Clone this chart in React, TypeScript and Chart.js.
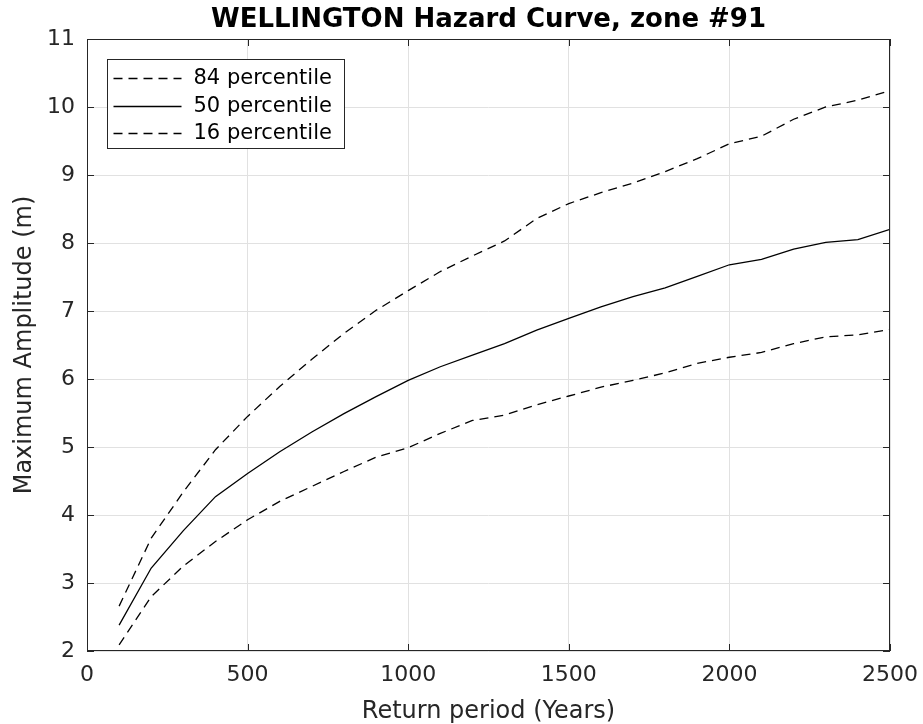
import React, { useEffect, useRef } from "react";
import { Chart, registerables } from "chart.js";

Chart.register(...registerables);

const titleText = "WELLINGTON Hazard Curve, zone #91";
const xTitle = "Return period (Years)";
const yTitle = "Maximum Amplitude (m)";
const seriesNames = ["84 percentile", "50 percentile", "16 percentile"];

const years = [100, 200, 300, 400, 500, 600, 700, 800, 900, 1000, 1100, 1200, 1300, 1400, 1500, 1600, 1700, 1800, 1900, 2000, 2100, 2200, 2300, 2400, 2500];
const p84 = [2.66, 3.66, 4.34, 4.96, 5.45, 5.89, 6.29, 6.67, 7.01, 7.3, 7.58, 7.81, 8.03, 8.36, 8.58, 8.74, 8.88, 9.05, 9.24, 9.46, 9.57, 9.82, 10.0, 10.1, 10.24];
const p50 = [2.38, 3.22, 3.77, 4.27, 4.61, 4.93, 5.22, 5.49, 5.74, 5.98, 6.18, 6.35, 6.52, 6.72, 6.89, 7.06, 7.21, 7.34, 7.51, 7.68, 7.76, 7.91, 8.01, 8.05, 8.2];
const p16 = [2.09, 2.8, 3.25, 3.61, 3.93, 4.2, 4.42, 4.64, 4.85, 4.99, 5.2, 5.39, 5.47, 5.62, 5.75, 5.88, 5.98, 6.09, 6.23, 6.32, 6.39, 6.52, 6.62, 6.65, 6.73];

const xMin = 0, xMax = 2500, xStep = 500;
const yMin = 2, yMax = 11, yStep = 1;

const FONT = "'DejaVu Sans', sans-serif";
const AXIS = "#262626";
const DASH = [9, 6];
const LW = 1.3;

const frameAndLegend = {
  id: "frameAndLegend",
  afterDatasetsDraw(chart: any) {
    const ctx = chart.ctx;
    const { left, right, top, bottom } = chart.chartArea;
    const xs = chart.scales.x;
    const ys = chart.scales.y;
    ctx.save();
    ctx.strokeStyle = AXIS;
    ctx.lineWidth = 1;
    ctx.strokeRect(Math.round(left) + 0.5, Math.round(top) + 0.5, Math.round(right - left) - 1, Math.round(bottom - top) - 1);
    const tl = 7;
    ctx.beginPath();
    for (let v = xMin; v <= xMax; v += xStep) {
      const px = Math.round(xs.getPixelForValue(v)) + 0.5;
      ctx.moveTo(px, bottom);
      ctx.lineTo(px, bottom - tl);
      ctx.moveTo(px, top);
      ctx.lineTo(px, top + tl);
    }
    for (let v = yMin; v <= yMax; v += yStep) {
      const py = Math.round(ys.getPixelForValue(v)) + 0.5;
      ctx.moveTo(left, py);
      ctx.lineTo(left + tl, py);
      ctx.moveTo(right, py);
      ctx.lineTo(right - tl, py);
    }
    ctx.stroke();

    const bx = Math.round(left) + 20.5;
    const by = Math.round(top) + 20.5;
    const bw = 237;
    const bh = 89;
    ctx.fillStyle = "#ffffff";
    ctx.fillRect(bx, by, bw, bh);
    ctx.strokeStyle = AXIS;
    ctx.lineWidth = 1;
    ctx.strokeRect(bx, by, bw, bh);
    ctx.font = `21px ${FONT}`;
    ctx.textBaseline = "middle";
    ctx.textAlign = "left";
    const rowY = [18.5, 46.5, 73];
    chart.data.datasets.forEach((ds: any, i: number) => {
      const y = Math.round(by + rowY[i]) + 0.5;
      ctx.strokeStyle = "#000";
      ctx.lineWidth = LW;
      ctx.setLineDash(ds.borderDash || []);
      ctx.beginPath();
      ctx.moveTo(bx + 6, y);
      ctx.lineTo(bx + 74, y);
      ctx.stroke();
      ctx.setLineDash([]);
      ctx.fillStyle = "#000";
      ctx.fillText(ds.label, bx + 86, y);
    });
    ctx.restore();
  },
};

export default function App() {
  const ref = useRef<HTMLCanvasElement | null>(null);
  useEffect(() => {
    if (!ref.current) return;
    const mk = (vals: number[]) => years.map((x, i) => ({ x, y: vals[i] }));
    const chart = new Chart(ref.current, {
      type: "line",
      data: {
        datasets: [
          { label: seriesNames[0], data: mk(p84), borderColor: "#000", borderWidth: LW, borderDash: DASH, pointRadius: 0, fill: false, tension: 0 },
          { label: seriesNames[1], data: mk(p50), borderColor: "#000", borderWidth: LW, pointRadius: 0, fill: false, tension: 0 },
          { label: seriesNames[2], data: mk(p16), borderColor: "#000", borderWidth: LW, borderDash: DASH, pointRadius: 0, fill: false, tension: 0 },
        ],
      },
      options: {
        responsive: false,
        animation: false,
        layout: { padding: { left: 0, right: 33, top: 0, bottom: 0 } },
        plugins: {
          legend: { display: false },
          tooltip: { enabled: false },
          title: {
            display: true,
            text: titleText,
            fullSize: false,
            color: "#000",
            font: { family: FONT, size: 26, weight: "bold", lineHeight: 1.2 },
            padding: { top: 5, bottom: 2.8 },
          },
        },
        scales: {
          x: {
            type: "linear",
            min: xMin,
            max: xMax,
            border: { display: false },
            grid: { color: "#e1e1e1", drawTicks: false, lineWidth: 1 },
            ticks: { stepSize: xStep, color: AXIS, padding: 11, maxRotation: 0, font: { family: FONT, size: 22, lineHeight: 1.2 }, callback: (v: any) => String(v) },
            title: { display: true, text: xTitle, color: AXIS, font: { family: FONT, size: 24, lineHeight: 1 }, padding: { top: 0, bottom: 0 } },
            afterFit: (s: any) => { s.height = 73; s.paddingLeft = 0; s.paddingRight = 0; },
          },
          y: {
            type: "linear",
            min: yMin,
            max: yMax,
            border: { display: false },
            grid: { color: "#e1e1e1", drawTicks: false, lineWidth: 1 },
            ticks: { stepSize: yStep, color: AXIS, padding: 12, font: { family: FONT, size: 22, lineHeight: 1.2 }, callback: (v: any) => String(v) },
            title: { display: true, text: yTitle, color: AXIS, font: { family: FONT, size: 24, lineHeight: 1.2 }, padding: { top: 10.3, bottom: 0 } },
            afterFit: (s: any) => { s.width = 87; s.paddingTop = 0; s.paddingBottom = 0; },
          },
        },
      },
      plugins: [frameAndLegend],
    });
    return () => chart.destroy();
  }, []);
  return (
    <div style={{ position: "fixed", left: 0, top: 0, width: 923, height: 724, background: "#fff" }}>
      <canvas ref={ref} width={923} height={724} style={{ display: "block" }} />
    </div>
  );
}
